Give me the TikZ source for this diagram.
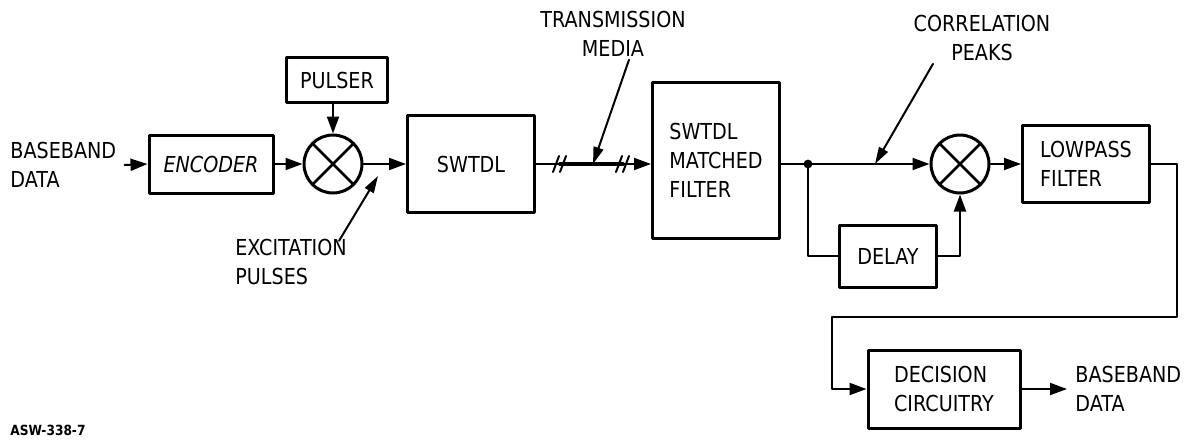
\documentclass[tikz,border=0pt]{standalone}
\usepackage{fontspec}
\newfontfamily\lettering[FakeStretch=0.87]{DejaVu Sans}
\usetikzlibrary{arrows.meta,positioning}
\tikzset{
    every picture/.style={line cap=round,line join=round},
    block/.style={draw,line width=1.5pt,minimum width=63.5pt,minimum height=38pt,
      inner sep=2pt,align=left},
    mixer/.style={draw,circle,line width=1.5pt,minimum size=29pt,inner sep=0pt,
      path picture={\draw[line width=1.4pt]
        (path picture bounding box.south west) -- (path picture bounding box.north east)
        (path picture bounding box.north west) -- (path picture bounding box.south east);}},
    sig/.style={-{Triangle[length=8.5pt,width=6pt]},line width=1pt},
    wire/.style={line width=1pt},
    pointer/.style={-{Triangle[length=8.5pt,width=5pt]},line width=1pt},
    lbl/.style={align=left,inner xsep=4pt,inner ysep=1pt}
}
\begin{document}
\begin{tikzpicture}[x=0.5pt,y=-0.5pt,font=\lettering\fontsize{11}{14.5}\selectfont]
  \useasboundingbox (0,0) rectangle (1185,440);
  % transmitter
  \node[lbl,anchor=west] (bbin) at (2,165) {BASEBAND\\DATA};
  \node[block,minimum width=62pt,minimum height=29pt] (enc) at (211,164) {\itshape ENCODER};
  \node[mixer] (mix1) at (333,164) {};
  \node[block,minimum width=50.5pt,minimum height=22.5pt] (pulser) at (337,80) {PULSER};
  \node[block,minimum height=48.5pt] (swtdl) at (471,164) {SWTDL};
  \node[lbl,anchor=west] (exc) at (227,262) {EXCITATION\\PULSES};
  \coordinate (excTip) at (378,176);
  \draw[sig] (bbin.east) -- (enc.west);
  \draw[sig] (enc) -- (mix1);
  \draw[sig] (pulser.south -| mix1) -- (mix1.north);
  \draw[sig] (mix1) -- (swtdl);
  \draw[pointer] ([xshift=24pt,yshift=-2pt]exc.north) -- (excTip);
  % transmission media
  \node[block,minimum height=78pt,text depth=-7pt] (mf) at (716,160) {SWTDL\\MATCHED\\FILTER};
  \node[align=center] (tm) at (613,34) {TRANSMISSION\\MEDIA};
  \coordinate (brk1) at (560,164);
  \coordinate (brk2) at (623,164);
  \coordinate (tmTip) at (593,164);
  \draw[sig] (swtdl.east) -- (swtdl.east -| mf.west);
  \draw[line width=2pt] (brk1) -- (brk2);
  \foreach \b in {brk1,brk2} {
    \draw[wire] ([shift={(-7,8)}]\b) -- ([shift={(-1,-8)}]\b);
    \draw[wire] ([shift={(0,8)}]\b) -- ([shift={(6,-8)}]\b);
  }
  \draw[pointer] ([xshift=8pt,yshift=2pt]tm.south) -- (tmTip);
  % receiver
  \coordinate (jn) at (808,164);
  \node[mixer] (mix2) at (960,164) {};
  \node[block,minimum width=48.5pt,minimum height=31pt] (delay) at (888,256) {DELAY};
  \node[block,minimum height=38.5pt] (lpf) at (1086,164) {LOWPASS\\FILTER};
  \node[block,minimum width=76pt,minimum height=39pt] (dec) at (944,389) {DECISION\\CIRCUITRY};
  \node[lbl,anchor=west] (bbout) at (1067,389) {BASEBAND\\DATA};
  \node[align=center] (cp) at (982,38) {CORRELATION\\PEAKS};
  \coordinate (cpTip) at (875,164);
  \coordinate (rt) at (1177,317);
  \coordinate (lf) at (832,317);
  \draw[wire] (mf.east |- jn) -- (jn);
  \fill (jn) circle (2.2pt);
  \draw[sig] (jn) -- (mix2.west);
  \draw[wire] (jn) |- (delay.west);
  \draw[sig] (delay.east) -| (mix2.south);
  \draw[sig] (mix2) -- (lpf);
  \draw[sig] (lpf.east) -| (rt) -- (lf) |- (dec.west);
  \draw[sig] (dec.east) -- (bbout.west);
  \draw[pointer] ([xshift=-24.5pt,yshift=2pt]cp.south) -- (cpTip);
  % figure tag
  \node[anchor=west,inner sep=0pt,font=\lettering\bfseries\fontsize{7}{8}\selectfont] (tag) at (10,430) {ASW-338-7};
\end{tikzpicture}
\end{document}
